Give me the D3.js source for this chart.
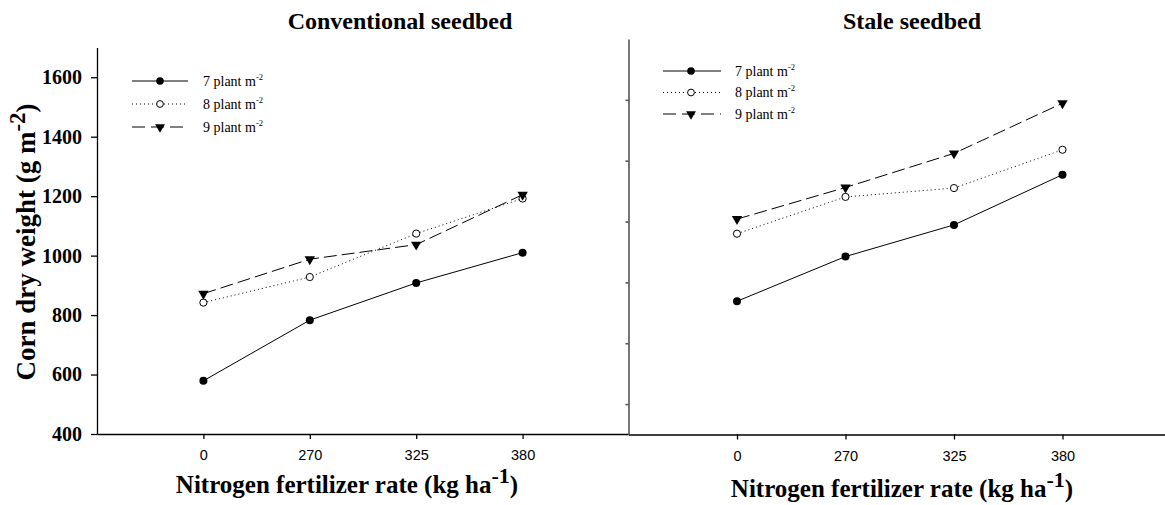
<!DOCTYPE html>
<html>
<head>
<meta charset="utf-8">
<script src="https://cdn.jsdelivr.net/npm/d3@7"></script>
<style>
  html, body { margin: 0; padding: 0; background: #fff; }
  svg { display: block; }
</style>
</head>
<body>
<svg id="chart" width="1165" height="505"></svg>
<script>
// ---------------- DATA ----------------
const categories = ["0", "270", "325", "380"];
const seriesNames = ["7", "8", "9"];
const conv7 = [579, 783, 908, 1010];
const conv8 = [842, 928, 1074, 1192];
const conv9 = [872, 988, 1037, 1205];
const stale7 = [838, 985, 1089, 1254];
const stale8 = [1060, 1181, 1210, 1336];
const stale9 = [1108, 1212, 1324, 1489];
const yTicksLeft = [400, 600, 800, 1000, 1200, 1400, 1600];
const yTicksRight = [500, 700, 900, 1100, 1300, 1500];
const panelTitles = ["Conventional seedbed", "Stale seedbed"];

// ---------------- DRAW ----------------
const svg = d3.select("#chart");
const serif = "'Liberation Serif', 'Times New Roman', serif";
const sans = "'Liberation Sans', Arial, sans-serif";

const xL = d3.scaleLinear().domain([-1, 4]).range([97, 629]);
const xR = d3.scaleLinear().domain([-1, 4]).range([628.5, 1171]);
const yL = d3.scaleLinear().domain([400, 1700]).range([434, 47.5]);
const yR = d3.scaleLinear().domain([400, 1700]).range([434.5, 39]);

const styles = [
  { dash: null, marker: "fill" },
  { dash: "1,3", marker: "open" },
  { dash: "13,5", marker: "tri" }
];

function marker(g, type, cx, cy, r) {
  if (type === "fill") {
    g.append("circle").attr("cx", cx).attr("cy", cy).attr("r", r).attr("fill", "#000");
  } else if (type === "open") {
    g.append("circle").attr("cx", cx).attr("cy", cy).attr("r", r - 0.4)
      .attr("fill", "#fff").attr("stroke", "#000").attr("stroke-width", 1);
  } else {
    const s = d3.symbol().type(d3.symbolTriangle).size(r * r * 2.9);
    g.append("path").attr("d", s()).attr("transform", `translate(${cx},${cy}) rotate(180)`).attr("fill", "#000");
  }
}

function panel(x, y, series, isLeft) {
  const g = svg.append("g");
  // x axis
  const ax = d3.axisBottom(x).tickValues([0, 1, 2, 3]).tickFormat(i => categories[i])
    .tickSize(5).tickSizeOuter(0).tickPadding(11);
  const xg = g.append("g").attr("transform", `translate(0,${y.range()[0]})`).call(ax);
  xg.attr("font-family", null);
  xg.selectAll("text").style("font-family", sans).style("font-size", "14.5px").attr("fill", "#000");
  xg.selectAll("line,path").attr("stroke", "#000").attr("stroke-width", 1.3);

  // y axis
  if (isLeft) {
    const ay = d3.axisLeft(y).tickValues(yTicksLeft).tickFormat(d3.format("d"))
      .tickSize(6).tickSizeOuter(0).tickPadding(9);
    const yg = g.append("g").attr("transform", `translate(${x.range()[0]},0)`).call(ay);
    yg.attr("font-family", null);
    yg.selectAll("text").style("font-family", serif).style("font-weight", "bold").style("font-size", "20px").attr("fill", "#000");
    yg.selectAll("line,path").attr("stroke", "#000").attr("stroke-width", 1.3);
  } else {
    const ay = d3.axisLeft(y).tickValues(yTicksRight).tickSize(3).tickSizeOuter(0).tickFormat("");
    const yg = g.append("g").attr("transform", `translate(${x.range()[0]},0)`).call(ay);
    yg.selectAll("line,path").attr("stroke", "#555").attr("stroke-width", 1.6);
  }

  // series
  series.forEach((vals, si) => {
    const line = d3.line().x((d, i) => x(i)).y(d => y(d));
    g.append("path").datum(vals).attr("d", line).attr("fill", "none")
      .attr("stroke", "#000").attr("stroke-width", 1)
      .attr("stroke-dasharray", styles[si].dash);
  });
  series.forEach((vals, si) => {
    vals.forEach((v, i) => marker(g, styles[si].marker, x(i), y(v), 4));
  });
  return g;
}

panel(xL, yL, [conv7, conv8, conv9], true);
panel(xR, yR, [stale7, stale8, stale9], false);

// Panel titles
svg.append("text").attr("x", 400).attr("y", 29).attr("text-anchor", "middle")
  .style("font-family", serif).style("font-weight", "bold").style("font-size", "24px").text(panelTitles[0]);
svg.append("text").attr("x", 912).attr("y", 29).attr("text-anchor", "middle")
  .style("font-family", serif).style("font-weight", "bold").style("font-size", "24px").text(panelTitles[1]);

// Legends
function legend(x0, x1, xm, xt, rows) {
  const g = svg.append("g");
  rows.forEach((ry, si) => {
    g.append("line").attr("x1", x0).attr("x2", x1).attr("y1", ry).attr("y2", ry)
      .attr("stroke", "#000").attr("stroke-width", 1)
      .attr("stroke-dasharray", si === 2 ? "13,6" : styles[si].dash);
    marker(g, styles[si].marker, xm, ry, 3.8);
    const t = g.append("text").attr("x", xt).attr("y", ry + 4.5)
      .style("font-family", serif).style("font-size", "14px").attr("fill", "#000");
    t.append("tspan").text(seriesNames[si] + " plant m");
    t.append("tspan").style("font-size", "8.5px").attr("dy", -6).text("-2");
  });
}
legend(132, 188, 160, 203, [81, 104, 127]);
legend(663, 721, 691, 735, [71, 92.5, 114]);

// X axis titles
function xTitle(cx, by) {
  const t = svg.append("text").attr("x", cx).attr("y", by).attr("text-anchor", "middle")
    .style("font-family", serif).style("font-weight", "bold").style("font-size", "25px").attr("fill", "#000");
  t.append("tspan").text("Nitrogen fertilizer rate (kg ha");
  t.append("tspan").attr("dy", -10).style("font-size", "22px").text("-1");
  t.append("tspan").attr("dy", 10).text(")");
}
xTitle(347, 493);
xTitle(902, 497);

// Y axis title
const yt = svg.append("text").attr("transform", "translate(35,242) rotate(-90)")
  .attr("text-anchor", "middle").style("font-family", serif).style("font-weight", "bold")
  .style("font-size", "27px").attr("fill", "#000");
yt.append("tspan").text("Corn dry weight (g m");
yt.append("tspan").attr("dy", -10).style("font-size", "23px").text("-2");
yt.append("tspan").attr("dy", 10).text(")");
</script>
</body>
</html>
